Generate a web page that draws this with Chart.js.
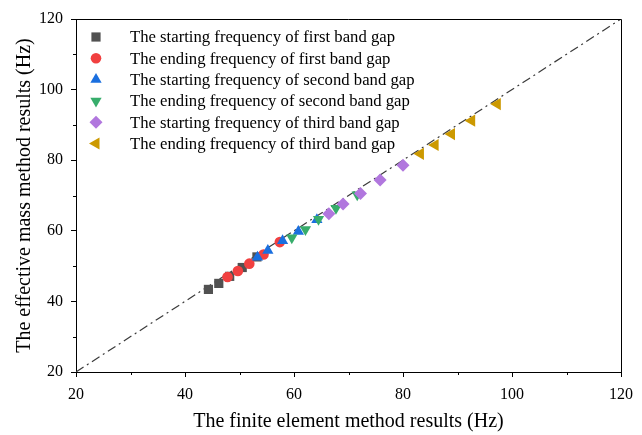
<!DOCTYPE html>
<html>
<head>
<meta charset="utf-8">
<script src="https://cdn.jsdelivr.net/npm/chart.js@4/dist/chart.umd.min.js"></script>
<style>
  html, body { margin: 0; padding: 0; background: #fff; }
  #wrap { width: 642px; height: 435px; }
</style>
</head>
<body>
<div id="wrap"><canvas id="id-grafico"></canvas></div>
<script>
// series names (legend)
const seriesNames = [
  "The starting frequency of first band gap",
  "The ending frequency of first band gap",
  "The starting frequency of second band gap",
  "The ending frequency of second band gap",
  "The starting frequency of third band gap",
  "The ending frequency of third band gap"
];

// x = finite element method, y = effective mass method (Hz)
const startFirstFem = [44.3, 46.2, 48.2, 50.5, 53.2];
const startFirstEmm = [43.4, 45.1, 47.1, 49.6, 52.6];
const endFirstFem = [47.8, 49.7, 51.8, 54.4, 57.4];
const endFirstEmm = [46.9, 48.6, 50.7, 53.3, 56.8];
const startSecondFem = [53.3, 55.2, 57.9, 60.8, 64.2];
const startSecondEmm = [52.5, 54.4, 57.2, 59.8, 63.1];
const endSecondFem = [59.6, 62.1, 64.5, 67.7, 71.6];
const endSecondEmm = [58.0, 60.4, 63.3, 66.4, 70.2];
const startThirdFem = [66.4, 69.0, 72.2, 75.8, 80.0];
const startThirdEmm = [64.8, 67.6, 70.6, 74.4, 78.6];
const endThirdFem = [83.2, 85.9, 88.9, 92.6, 97.3];
const endThirdEmm = [81.8, 84.3, 87.4, 91.2, 95.9];

// y = x reference line
const refLineX = [20, 120];
const refLineY = [20, 120];

// axis ticks
const majorTicks = [20, 40, 60, 80, 100, 120];
const minorTicks = [30, 50, 70, 90, 110];

const serif = '"Liberation Serif", "Times New Roman", serif';

function pares(xs, ys) {
  return xs.map((x, i) => ({x: x, y: ys[i]}));
}

const estilos = [
  {color: "#515151", pointStyle: "rect", rotation: 0, radius: 6.5},
  {color: "#F14040", pointStyle: "circle", rotation: 0, radius: 5.3},
  {color: "#1A6FDF", pointStyle: "triangle", rotation: 0, radius: 6.5},
  {color: "#37AD6B", pointStyle: "triangle", rotation: 180, radius: 6.5},
  {color: "#B177DE", pointStyle: "rectRot", rotation: 0, radius: 6.5},
  {color: "#CC9900", pointStyle: "triangle", rotation: 270, radius: 7}
];

const datos = [
  [startFirstFem, startFirstEmm],
  [endFirstFem, endFirstEmm],
  [startSecondFem, startSecondEmm],
  [endSecondFem, endSecondEmm],
  [startThirdFem, startThirdEmm],
  [endThirdFem, endThirdEmm]
];

// later series drawn on top (higher order = drawn first)
let datasets = datos.map((d, i) => ({
  label: seriesNames[i],
  data: pares(d[0], d[1]),
  backgroundColor: estilos[i].color,
  borderColor: estilos[i].color,
  borderWidth: 0,
  pointStyle: estilos[i].pointStyle,
  pointRotation: estilos[i].rotation,
  pointRadius: estilos[i].radius,
  pointHoverRadius: estilos[i].radius,
  order: 6 - i
}));

datasets.push({
  type: "line",
  label: "y=x",
  data: pares(refLineX, refLineY),
  borderColor: "#3a3a3a",
  borderWidth: 1.2,
  borderDash: [9, 4, 2, 4],
  pointRadius: 0,
  showLine: true,
  fill: false,
  order: 10
});

// frame on top/right + minor ticks + legend inside plot
const marco = {
  id: "marco",
  afterDraw(chart) {
    const ctx = chart.ctx;
    const a = chart.chartArea;
    const xs = chart.scales.x, ys = chart.scales.y;
    ctx.save();
    ctx.strokeStyle = "#000";
    ctx.lineWidth = 1;
    ctx.beginPath();
    ctx.moveTo(a.left, a.top + 0.5);
    ctx.lineTo(a.right + 0.5, a.top + 0.5);
    ctx.lineTo(a.right + 0.5, a.bottom);
    ctx.stroke();
    ctx.beginPath();
    for (const v of minorTicks) {
      const px = Math.round(xs.getPixelForValue(v)) + 0.5;
      ctx.moveTo(px, a.bottom);
      ctx.lineTo(px, a.bottom + 3);
      const py = Math.round(ys.getPixelForValue(v)) + 0.5;
      ctx.moveTo(a.left, py);
      ctx.lineTo(a.left - 3, py);
    }
    ctx.stroke();

    // leyenda
    ctx.font = "16.7px " + serif;
    ctx.textBaseline = "middle";
    for (let i = 0; i < seriesNames.length; i++) {
      const y = a.top + 18 + i * 21.3;
      const e = estilos[i];
      ctx.fillStyle = e.color;
      ctx.strokeStyle = e.color;
      Chart.helpers.drawPoint(ctx, {pointStyle: e.pointStyle, rotation: e.rotation, radius: e.radius, borderWidth: 0}, a.left + 20, y);
      ctx.fillStyle = "#000";
      ctx.fillText(seriesNames[i], a.left + 54, y + 1);
    }
    ctx.restore();
  }
};

new Chart("id-grafico", {
  type: "scatter",
  data: {datasets: datasets},
  options: {
    responsive: true,
    maintainAspectRatio: false,
    animation: false,
    layout: {padding: {top: 19, right: 21, left: 0, bottom: 0}},
    plugins: {legend: {display: false}, tooltip: {enabled: false}},
    scales: {
      x: {
        type: "linear",
        min: 20, max: 120,
        afterFit: s => { s.height = 63; },
        afterBuildTicks: s => { s.ticks = majorTicks.map(v => ({value: v})); },
        ticks: {color: "#000", font: {family: serif, size: 16}, padding: 8, maxRotation: 0},
        grid: {drawOnChartArea: false, tickLength: 5, tickColor: "#000"},
        border: {color: "#000", width: 1},
        title: {display: true, text: "The finite element method results (Hz)", color: "#000",
                font: {family: serif, size: 20}, padding: {top: 0, bottom: 1}}
      },
      y: {
        type: "linear",
        min: 20, max: 120,
        afterFit: s => { s.width = 76; },
        afterBuildTicks: s => { s.ticks = majorTicks.map(v => ({value: v})); },
        ticks: {color: "#000", font: {family: serif, size: 16}, padding: 8},
        grid: {drawOnChartArea: false, tickLength: 5, tickColor: "#000"},
        border: {color: "#000", width: 1},
        title: {display: true, text: "The effective mass method results (Hz)", color: "#000",
                font: {family: serif, size: 20}, padding: {top: 13, bottom: 0}}
      }
    }
  },
  plugins: [marco]
});
</script>
</body>
</html>
